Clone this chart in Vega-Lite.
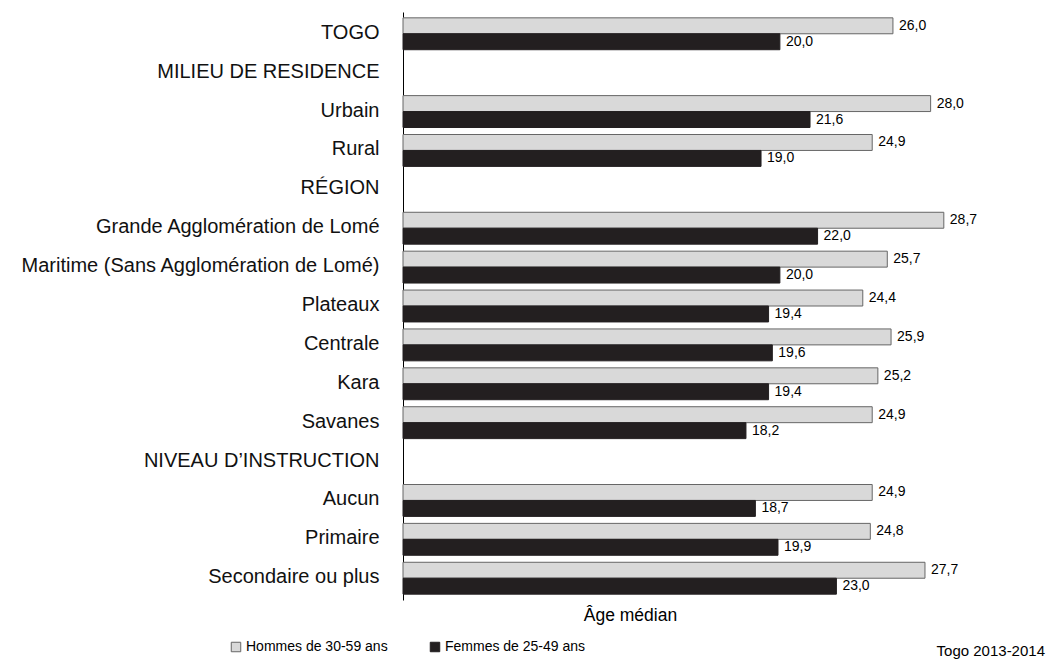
{
  "$schema": "https://vega.github.io/schema/vega-lite/v6.json",
  "autosize": "none",
  "width": 603,
  "height": 588,
  "padding": {"left": 403, "top": 12, "right": 47, "bottom": 59},
  "background": "white",
  "config": {
    "font": "Liberation Sans",
    "view": {"stroke": null},
    "locale": {"number": {"decimal": ",", "thousands": " ", "grouping": [3], "currency": ["", " €"]}}
  },
  "title": {"text": "Togo 2013-2014", "orient": "bottom", "anchor": "end", "fontSize": 15, "fontWeight": "normal", "color": "#000", "dx": 39, "offset": -10, "font": "Liberation Sans"},
  "data": {"values": [
    {"categorie": "TOGO", "groupe": "Hommes de 30-59 ans", "valeur": 26.0},
    {"categorie": "TOGO", "groupe": "Femmes de 25-49 ans", "valeur": 20.0},
    {"categorie": "Urbain", "groupe": "Hommes de 30-59 ans", "valeur": 28.0},
    {"categorie": "Urbain", "groupe": "Femmes de 25-49 ans", "valeur": 21.6},
    {"categorie": "Rural", "groupe": "Hommes de 30-59 ans", "valeur": 24.9},
    {"categorie": "Rural", "groupe": "Femmes de 25-49 ans", "valeur": 19.0},
    {"categorie": "Grande Agglomération de Lomé", "groupe": "Hommes de 30-59 ans", "valeur": 28.7},
    {"categorie": "Grande Agglomération de Lomé", "groupe": "Femmes de 25-49 ans", "valeur": 22.0},
    {"categorie": "Maritime (Sans Agglomération de Lomé)", "groupe": "Hommes de 30-59 ans", "valeur": 25.7},
    {"categorie": "Maritime (Sans Agglomération de Lomé)", "groupe": "Femmes de 25-49 ans", "valeur": 20.0},
    {"categorie": "Plateaux", "groupe": "Hommes de 30-59 ans", "valeur": 24.4},
    {"categorie": "Plateaux", "groupe": "Femmes de 25-49 ans", "valeur": 19.4},
    {"categorie": "Centrale", "groupe": "Hommes de 30-59 ans", "valeur": 25.9},
    {"categorie": "Centrale", "groupe": "Femmes de 25-49 ans", "valeur": 19.6},
    {"categorie": "Kara", "groupe": "Hommes de 30-59 ans", "valeur": 25.2},
    {"categorie": "Kara", "groupe": "Femmes de 25-49 ans", "valeur": 19.4},
    {"categorie": "Savanes", "groupe": "Hommes de 30-59 ans", "valeur": 24.9},
    {"categorie": "Savanes", "groupe": "Femmes de 25-49 ans", "valeur": 18.2},
    {"categorie": "Aucun", "groupe": "Hommes de 30-59 ans", "valeur": 24.9},
    {"categorie": "Aucun", "groupe": "Femmes de 25-49 ans", "valeur": 18.7},
    {"categorie": "Primaire", "groupe": "Hommes de 30-59 ans", "valeur": 24.8},
    {"categorie": "Primaire", "groupe": "Femmes de 25-49 ans", "valeur": 19.9},
    {"categorie": "Secondaire ou plus", "groupe": "Hommes de 30-59 ans", "valeur": 27.7},
    {"categorie": "Secondaire ou plus", "groupe": "Femmes de 25-49 ans", "valeur": 23.0}
  ]},
  "encoding": {
    "y": {
      "field": "categorie", "type": "nominal",
      "scale": {
        "domain": ["TOGO", "MILIEU DE RESIDENCE", "Urbain", "Rural", "RÉGION", "Grande Agglomération de Lomé", "Maritime (Sans Agglomération de Lomé)", "Plateaux", "Centrale", "Kara", "Savanes", "NIVEAU D’INSTRUCTION", "Aucun", "Primaire", "Secondaire ou plus"],
        "paddingInner": 0.18, "paddingOuter": 0.15
      },
      "axis": {"title": null, "ticks": false, "labelFontSize": 20, "labelColor": "#111", "labelPadding": 24, "labelLimit": 500, "labelOffset": -1, "domainColor": "#000", "domainWidth": 1}
    },
    "yOffset": {"field": "groupe", "type": "nominal", "scale": {"domain": ["Hommes de 30-59 ans", "Femmes de 25-49 ans"], "paddingInner": 0, "paddingOuter": 0}},
    "x": {
      "field": "valeur", "type": "quantitative",
      "scale": {"domain": [0, 32], "nice": false, "zero": true},
      "axis": {"title": "Âge médian", "domain": false, "ticks": false, "labels": false, "grid": false, "titleFontSize": 17.5, "titleFontWeight": "normal", "titleColor": "#000", "titleX": 227, "titlePadding": 6}
    }
  },
  "layer": [
    {
      "mark": {"type": "bar", "strokeWidth": 1},
      "encoding": {
        "color": {"field": "groupe", "type": "nominal", "scale": {"domain": ["Hommes de 30-59 ans", "Femmes de 25-49 ans"], "range": ["#d9d9d9", "#231f20"]},
          "legend": {"title": null, "orient": "none", "legendX": -174, "legendY": 628, "direction": "horizontal", "symbolType": "square", "symbolSize": 90, "symbolStrokeWidth": 1, "labelFontSize": 14, "labelColor": "#000", "labelOffset": 3, "columnPadding": 40, "labelFont": "Liberation Sans"}},
        "stroke": {"field": "groupe", "type": "nominal", "scale": {"domain": ["Hommes de 30-59 ans", "Femmes de 25-49 ans"], "range": ["#666666", "#231f20"]}}
      }
    },
    {
      "mark": {"type": "text", "align": "left", "dx": 6, "fontSize": 14, "color": "#000", "baseline": "middle"},
      "encoding": {"text": {"field": "valeur", "type": "quantitative", "format": ".1f"}}
    }
  ]
}
